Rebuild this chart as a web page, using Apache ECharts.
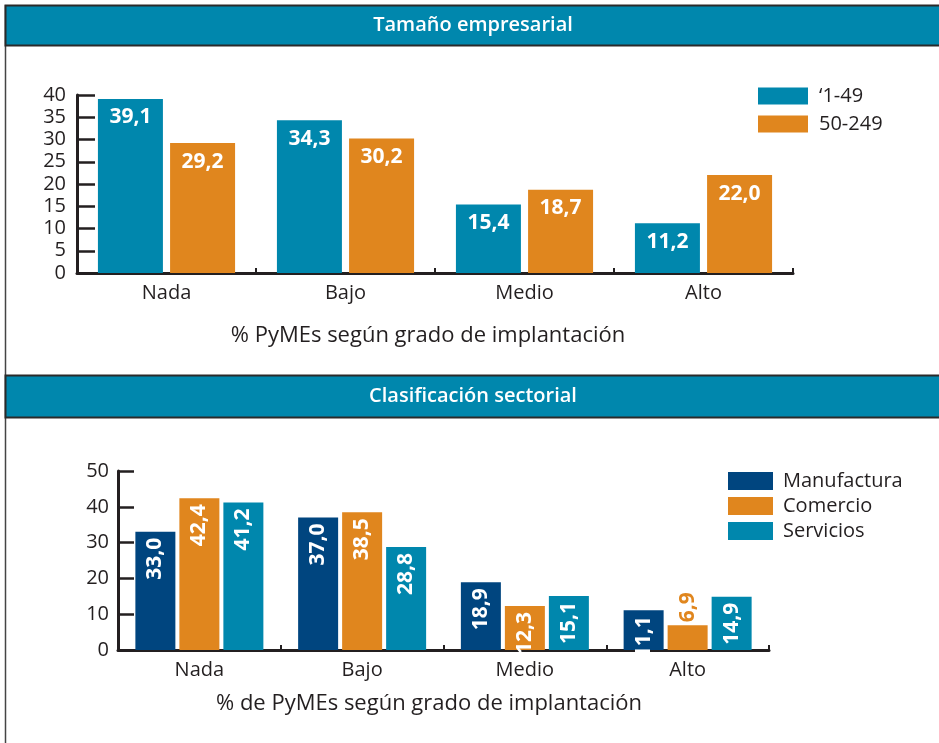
<!DOCTYPE html>
<html><head><meta charset="utf-8">
<script src="https://cdn.jsdelivr.net/npm/echarts@6/dist/echarts.min.js"></script>
<style>html,body{margin:0;padding:0;background:#fff}#c{width:939px;height:743px}</style>
</head><body><div id="c"></div>
<script>
// ---- data ----
const categories = ['Nada', 'Bajo', 'Medio', 'Alto'];
const title1 = 'Tamaño empresarial';
const title2 = 'Clasificación sectorial';
const axisName1 = '% PyMEs según grado de implantación';
const axisName2 = '% de PyMEs según grado de implantación';
const sizeNames = ['\u20181-49', '50-249'];
const size1_49 = [39.1, 34.3, 15.4, 11.2];
const size50_249 = [29.2, 30.2, 18.7, 22.0];
const sectorNames = ['Manufactura', 'Comercio', 'Servicios'];
const manufactura = [33.0, 37.0, 18.9, 11.1];
const comercio = [42.4, 38.5, 12.3, 6.9];
const servicios = [41.2, 28.8, 15.1, 14.9];

const TEAL = '#0087ad', ORANGE = '#e0861e', NAVY = '#00457f', INK = '#231f20';
const FONT = 'Open Sans';
const fmt = p => (typeof p.value === 'number' ? p.value : p.value).toFixed(1).replace('.', ',');

const chart = echarts.init(document.getElementById('c'), null, {renderer: 'canvas'});

function xAxis(gi, name, gap, padRight) {
  return {
    type: 'category', gridIndex: gi, data: categories,
    axisLine: {lineStyle: {color: INK, width: 3}},
    axisTick: {show: true, inside: true, length: 5, lineStyle: {color: INK, width: 2}},
    axisLabel: {color: INK, fontSize: 20, fontFamily: FONT, margin: 10},
    name: name, nameLocation: 'middle', nameGap: gap,
    nameTextStyle: {color: INK, fontSize: 22, fontFamily: FONT, padding: [0, padRight, 0, 0]}
  };
}
function yAxis(gi, max, interval, tickLen, margin) {
  return {
    type: 'value', gridIndex: gi, min: 0, max: max, interval: interval,
    splitLine: {show: false},
    axisLine: {show: true, lineStyle: {color: INK, width: 3}},
    axisTick: {show: true, inside: true, length: tickLen, lineStyle: {color: INK, width: 2.5}},
    axisLabel: {color: INK, fontSize: 20, fontFamily: FONT, margin: margin}
  };
}

const lbl1 = {show: true, position: 'insideTop', distance: 8, color: '#fff', fontSize: 21,
  fontWeight: 'bold', fontFamily: FONT, formatter: fmt};
const lbl2 = {show: true, position: 'insideTop', distance: 6, rotate: 90, align: 'right',
  verticalAlign: 'middle', color: '#fff', fontSize: 21, fontWeight: 'bold', fontFamily: FONT, formatter: fmt};

const comercioData = comercio.map((v, i) => i === 3
  ? {value: v, label: {position: 'top', distance: 3, align: 'left', color: ORANGE}}
  : v);

chart.setOption({
  animation: false,
  textStyle: {fontFamily: FONT},
  graphic: [
    {type: 'line', shape: {x1: 5.5, y1: 5, x2: 5.5, y2: 743}, style: {stroke: '#444', lineWidth: 1.5}},
    {type: 'rect', shape: {x: 5.5, y: 5.5, width: 940, height: 40}, style: {fill: TEAL, stroke: '#2a2a2a', lineWidth: 2}},
    {type: 'text', x: 473, y: 25.5, style: {text: title1, fill: '#fff', fontSize: 20, fontWeight: 600,
      fontFamily: 'Open Sans', align: 'center', verticalAlign: 'middle'}},
    {type: 'rect', shape: {x: 5.5, y: 375.5, width: 940, height: 42}, style: {fill: TEAL, stroke: '#2a2a2a', lineWidth: 2}},
    {type: 'text', x: 473, y: 396.5, style: {text: title2, fill: '#fff', fontSize: 20, fontWeight: 600,
      fontFamily: 'Open Sans', align: 'center', verticalAlign: 'middle'}}
  ],
  legend: [
    {data: sizeNames, orient: 'vertical', left: 758, top: 86, padding: 0, itemWidth: 50, itemHeight: 17, itemGap: 8,
      icon: 'rect', textStyle: {color: INK, fontSize: 20, fontFamily: FONT, padding: [0, 0, 0, 6]}},
    {data: sectorNames, orient: 'vertical', left: 728, top: 471, padding: 0, itemWidth: 45, itemHeight: 18, itemGap: 5,
      icon: 'rect', textStyle: {color: INK, fontSize: 20, fontFamily: FONT, padding: [0, 0, 0, 5]}}
  ],
  grid: [
    {left: 77, right: 146, top: 95, bottom: 470},
    {left: 118, right: 170, top: 471, bottom: 93}
  ],
  xAxis: [xAxis(0, axisName1, 52, 14), xAxis(1, axisName2, 43, 29)],
  yAxis: [yAxis(0, 40, 5, 18, 11), yAxis(1, 50, 10, 16, 9)],
  series: [
    {name: sizeNames[0], type: 'bar', xAxisIndex: 0, yAxisIndex: 0, data: size1_49, barWidth: 65, barGap: '11%',
      itemStyle: {color: TEAL}, label: lbl1},
    {name: sizeNames[1], type: 'bar', xAxisIndex: 0, yAxisIndex: 0, data: size50_249, barWidth: 65, barGap: '11%',
      itemStyle: {color: ORANGE}, label: lbl1},
    {name: sectorNames[0], type: 'bar', xAxisIndex: 1, yAxisIndex: 1, data: manufactura, barWidth: 40, barGap: '10%',
      itemStyle: {color: NAVY}, label: lbl2},
    {name: sectorNames[1], type: 'bar', xAxisIndex: 1, yAxisIndex: 1, data: comercioData, barWidth: 40, barGap: '10%',
      itemStyle: {color: ORANGE}, label: lbl2},
    {name: sectorNames[2], type: 'bar', xAxisIndex: 1, yAxisIndex: 1, data: servicios, barWidth: 40, barGap: '10%',
      itemStyle: {color: TEAL}, label: lbl2}
  ]
});
</script></body></html>
